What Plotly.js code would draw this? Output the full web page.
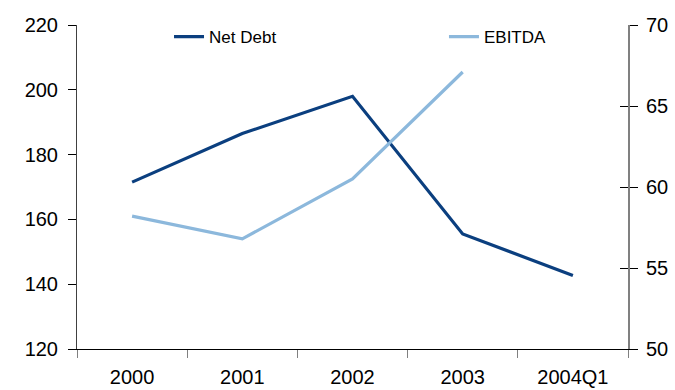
<!DOCTYPE html>
<html>
<head>
<meta charset="utf-8">
<script src="https://cdn.plot.ly/plotly-3.0.1.min.js"></script>
<style>html,body{margin:0;padding:0;background:#fff}#chart{width:675px;height:390px}</style>
</head>
<body>
<div id="chart"></div>
<script>
const categories = ["2000", "2001", "2002", "2003", "2004Q1"];
const netDebt = [171.5, 186.5, 198, 155.5, 142.7];
const ebitda = [58.2, 56.8, 60.5, 67.1, null];
const leftTicks = [120, 140, 160, 180, 200, 220];
const rightTicks = [50, 55, 60, 65, 70];

const FONT = "Liberation Sans, Arial, sans-serif";

const traces = [
  {x: categories, y: netDebt, name: "Net Debt", type: "scatter", mode: "lines",
   line: {color: "#0b3f7f", width: 3.2}, yaxis: "y", legend: "legend"},
  {x: categories, y: ebitda, name: "EBITDA", type: "scatter", mode: "lines",
   line: {color: "#8cb8dc", width: 3.2}, yaxis: "y2", connectgaps: false, legend: "legend2"},
  {x: categories, y: [null, null, null, null, null], showlegend: false, hoverinfo: "skip",
   type: "scatter", mode: "lines", yaxis: "y3"}
];

const legendCommon = {orientation: "h", xanchor: "left", yanchor: "top",
  font: {family: FONT, size: 17, color: "#000"}, bgcolor: "rgba(0,0,0,0)"};

const layout = {
  width: 675, height: 390,
  margin: {l: 77, r: 47, t: 25, b: 41},
  paper_bgcolor: "#fff", plot_bgcolor: "#fff",
  font: {family: FONT, size: 20, color: "#000"},
  showlegend: true,
  legend: Object.assign({}, legendCommon, {x: 0.167, y: 1.018}),
  legend2: Object.assign({}, legendCommon, {x: 0.666, y: 1.018}),
  xaxis: {type: "category", range: [-0.5, 4.5], showgrid: false, zeroline: false,
          showline: true, linecolor: "#000", linewidth: 1,
          ticks: "outside", tickson: "boundaries", ticklen: 8, tickcolor: "#808080", tickwidth: 1,
          ticklabelstandoff: 10, tickfont: {size: 20}},
  yaxis: {range: [120, 220], tickvals: leftTicks, showgrid: false, zeroline: false,
          showline: true, linecolor: "#404040", linewidth: 1,
          ticks: "outside", ticklen: 8, tickcolor: "#000", ticklabelstandoff: 6,
          tickfont: {size: 20}},
  yaxis2: {range: [50, 70], tickvals: rightTicks, overlaying: "y", side: "right",
           showgrid: false, zeroline: false, showline: true, linecolor: "#808080", linewidth: 2,
           ticks: "outside", ticklen: 8, tickcolor: "#000", ticklabelstandoff: 4,
           tickfont: {size: 20}},
  yaxis3: {range: [50, 70], tickvals: rightTicks, overlaying: "y", side: "right",
           showgrid: false, zeroline: false, showline: false, showticklabels: false,
           ticks: "inside", ticklen: 8, tickcolor: "#000"}
};

Plotly.newPlot("chart", traces, layout, {displayModeBar: false, staticPlot: true});
</script>
</body>
</html>
